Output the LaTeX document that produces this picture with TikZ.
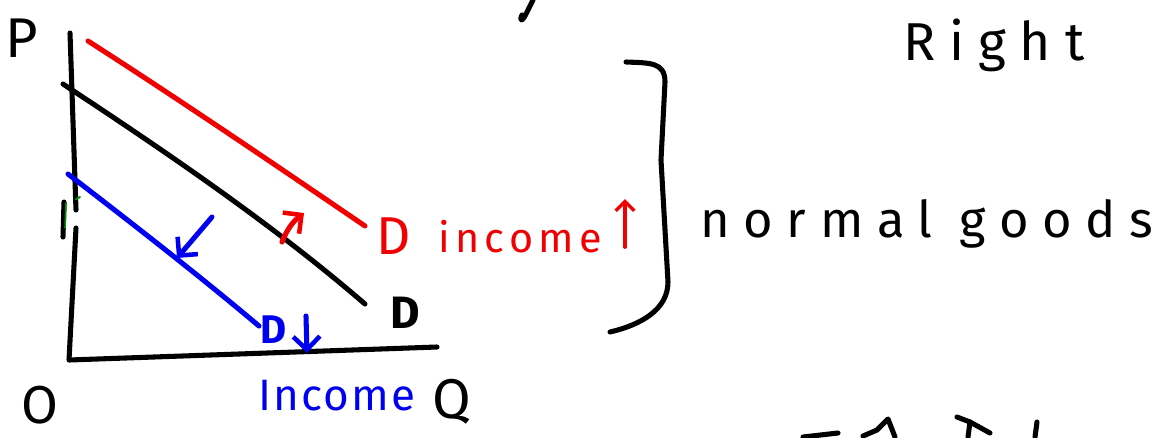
\documentclass[tikz,border=0pt]{standalone}
\usepackage{fontspec}
\setmainfont{Fira Sans}
\newfontfamily\spA[LetterSpace=13]{Fira Sans}
\newfontfamily\spB[LetterSpace=5]{Fira Sans}
\newfontfamily\spC[LetterSpace=27]{Fira Sans}
\newfontfamily\spD[LetterSpace=26]{Fira Sans}
\usetikzlibrary{arrows.meta}
\definecolor{pred}{RGB}{240,0,0}
\definecolor{pblue}{RGB}{0,0,240}
\definecolor{pgreen}{RGB}{0,140,0}
\begin{document}
\begin{tikzpicture}[x=0.75pt,y=-0.75pt,
  stroke/.style={line width=3.8pt,line cap=round,line join=round},
  thinstroke/.style={line width=2.8pt,line cap=round,line join=round},
  barb/.style={-{Straight Barb[length=10pt,width=20pt,line width=3.4pt]}},
  lbl/.style={inner sep=0pt,font=\fontsize{30}{30}\selectfont}]
\useasboundingbox (0,0) rectangle (1172,437);
% axes
\coordinate (ytop) at (70,33);
\coordinate (ymid1) at (76,210);
\coordinate (ymid2) at (76,228);
\coordinate (orig) at (69,360);
\coordinate (xend) at (437,347);
\draw[stroke] (ytop) -- (ymid1);
\draw[stroke] (ymid2) -- (orig) -- (xend);
% small marks on axis
\coordinate (t1) at (64,202);
\coordinate (t2) at (63,237);
\draw[stroke] (t1) -- (t2);
\coordinate (g1) at (66,203);
\coordinate (g2) at (65,228);
\draw[line width=1.2pt,pgreen,line cap=round] (g1) -- (g2);
\coordinate (g3) at (76,199);
\coordinate (g4) at (80,197);
\draw[line width=1.5pt,pgreen,line cap=round] (g3) -- (g4);
% axis labels
\node[lbl,font=\fontsize{42}{42}\selectfont] (P) at (22,38) {P};
\node[lbl,font=\fontsize{40}{40}\selectfont] (O) at (40,405) {O};
\node[lbl,font=\fontsize{42}{42}\selectfont] (Q) at (452,402) {Q};
% demand curves
\coordinate (b1) at (63,84);
\coordinate (b2) at (365,304);
\draw[stroke] (b1) .. controls (160,148) and (270,222) .. (b2);
\node[lbl,font=\fontsize{34}{34}\selectfont\bfseries] (Db) at (405,313) {D};
\coordinate (r1) at (88,41);
\coordinate (r2) at (365,226);
\draw[stroke,pred] (r1) .. controls (180,100) and (280,168) .. (r2);
\node[lbl,font=\fontsize{40}{40}\selectfont,text=pred] (Dr) at (394,236) {D};
\node[lbl,font=\fontsize{31}{31}\selectfont\spA,text=pred,anchor=base west] (inc) at (438,252) {income};
\coordinate (bl1) at (68,174);
\coordinate (bl2) at (259,326);
\draw[stroke,pblue] (bl1) .. controls (125,218) and (195,272) .. (bl2);
\node[lbl,font=\fontsize{30}{30}\selectfont\bfseries,text=pblue] (Dbl) at (274,330) {D};
\node[lbl,font=\fontsize{33}{33}\selectfont\spB,text=pblue,anchor=base west] (Inc) at (258,410) {Income};
% shift arrows
\coordinate (ra1) at (282,242);
\coordinate (ra2) at (304,213);
\draw[stroke,pred,barb] (ra1) to[bend left=15] (ra2);
\coordinate (ba1) at (212,217);
\coordinate (ba2) at (177,258);
\draw[stroke,pblue,barb] (ba1) -- (ba2);
\coordinate (da1) at (306,316);
\coordinate (da2) at (307,353);
\draw[stroke,pblue,barb] (da1) -- (da2);
\coordinate (ua1) at (625,247);
\coordinate (ua2) at (625,199);
\draw[thinstroke,pred,-{Straight Barb[length=7pt,width=14pt,line width=2.6pt]}] (ua1) -- (ua2);
% bracket
\coordinate (k1) at (626,62);
\coordinate (k2) at (665,82);
\coordinate (k3) at (668,282);
\coordinate (k4) at (610,332);
\draw[stroke] (k1) .. controls (650,63) and (665,62) .. (k2) -- (661,160) -- (k3) .. controls (668,310) and (640,325) .. (k4);
% text
\node[lbl,font=\fontsize{38}{38}\selectfont\spC,anchor=base west] (normal) at (700,237) {normal goods};
\node[lbl,font=\fontsize{40}{40}\selectfont\spD,anchor=base west] (right) at (903,60) {Right};
% cut-off fragments
\coordinate (f1) at (533,0);
\coordinate (f2) at (522,15);
\draw[stroke] (f1) -- (527,12) .. controls (522,23) and (519,21) .. (f2);
\coordinate (h1) at (803,437);
\coordinate (h2) at (838,433);
\draw[stroke] (h1) -- (h2);
\coordinate (h3) at (863,436);
\coordinate (h4) at (895,437);
\draw[stroke] (h3) -- (877,430) -- (888,419) -- (h4);
\coordinate (h5) at (957,417);
\coordinate (h6) at (990,433);
\draw[stroke] (h5) -- (970,422) -- (h6);
\coordinate (h7) at (970,422);
\coordinate (h8) at (968,437);
\draw[stroke] (h7) -- (h8);
\coordinate (h9) at (1037,422);
\coordinate (h10) at (1035,437);
\draw[stroke] (h9) -- (h10);
\end{tikzpicture}
\end{document}
